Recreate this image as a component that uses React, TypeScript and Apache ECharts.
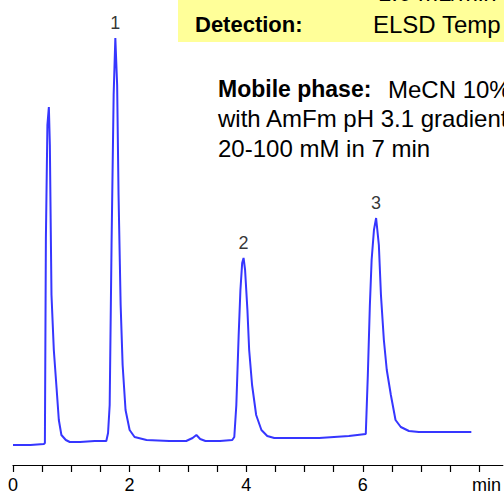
import React, { useEffect, useRef } from "react";
import * as echarts from "echarts";

// Retention time (min) and detector signal (arbitrary units)
const times = [
  0.0, 0.3, 0.53, 0.547, 0.564, 0.59, 0.615, 0.632, 0.66, 0.7, 0.747, 0.786, 0.83, 0.906, 0.974,
  1.15, 1.4, 1.6, 1.63, 1.658, 1.69, 1.726, 1.755, 1.786, 1.81, 1.846, 1.88, 1.93, 2.0, 2.085,
  2.29, 2.68, 2.97, 3.08, 3.145, 3.21, 3.3, 3.55, 3.76, 3.795, 3.83, 3.87, 3.9, 3.93, 3.954,
  3.98, 4.02, 4.05, 4.1, 4.17, 4.26, 4.36, 4.48, 4.9, 5.25, 5.76, 6.05, 6.085, 6.12, 6.15,
  6.19, 6.227, 6.274, 6.31, 6.36, 6.41, 6.48, 6.56, 6.65, 6.79, 6.96, 7.25, 7.86,
];
const signal = [
  0, 0, 1, 2, 207, 320, 338, 300, 150, 95, 57, 25, 10, 5, 3,
  3, 4, 4, 12, 40, 200, 350, 407, 360, 250, 140, 80, 35, 15, 8,
  5, 4, 4, 7, 10, 6, 4, 4, 5, 8, 40, 110, 155, 182, 187,
  175, 135, 95, 60, 30, 15, 9, 7, 7, 7, 9, 11, 70, 140, 185,
  215, 227, 200, 150, 105, 75, 50, 25, 18, 14, 13, 13, 13,
];

// Labelled peaks
const peakNames = ["1", "2", "3"];
const peakTimes = [1.755, 3.954, 6.227];
const peakSignals = [407, 187, 227];

// Axis labels
const majorTicks = [0, 2, 4, 6];
const unitLabel = "min";
const unitTick = 8;

// Annotation texts
const conditionLabels = ["Flow:", "Detection:"];
const conditionValues = ["1.0 mL/min", "ELSD Temp 50°C"];
const mobileTitle = "Mobile phase:";
const mobileLines = ["MeCN 10%", "with AmFm pH 3.1 gradient", "20-100 mM in 7 min"];

const FONT = "'Liberation Sans', Arial, Helvetica, sans-serif";

export default function App() {
  const ref = useRef<HTMLDivElement>(null);

  useEffect(() => {
    if (!ref.current) return;
    const chart = echarts.init(ref.current, undefined, { renderer: "svg" });

    const lineData = times.map((t, i) => [t, signal[i]]);
    const peakData = peakNames.map((n, i) => ({ name: n, value: [peakTimes[i], peakSignals[i]] }));

    const textStyle = (bold: boolean, size: number) => ({
      fill: "#000",
      font: `${bold ? "bold " : ""}${size}px ${FONT}`,
      textVerticalAlign: "middle",
      verticalAlign: "middle",
    });

    chart.setOption({
      animation: false,
      backgroundColor: "#fff",
      grid: { left: 13, right: 0, top: 25, bottom: 30, containLabel: false },
      xAxis: {
        type: "value",
        min: 0,
        max: 8.4,
        interval: 0.5,
        axisLine: { show: true, onZero: false, lineStyle: { color: "#000", width: 1.2 } },
        axisTick: { show: true, length: 7, lineStyle: { color: "#000", width: 1.2 } },
        splitLine: { show: false },
        axisLabel: {
          show: true,
          margin: 11,
          fontSize: 18,
          fontFamily: FONT,
          color: "#000",
          showMaxLabel: false,
          formatter: (v: number) => {
            if (Math.abs(v - unitTick) < 1e-6) return `{u|${unitLabel}}`;
            return majorTicks.some((m) => Math.abs(m - v) < 1e-6) ? String(v) : "";
          },
          rich: { u: { fontSize: 18, fontFamily: FONT, color: "#000", padding: [0, 0, 0, 14] } },
        },
      },
      yAxis: {
        type: "value",
        min: -20,
        max: 420,
        show: false,
      },
      series: [
        {
          type: "line",
          data: lineData,
          showSymbol: false,
          symbol: "none",
          lineStyle: { color: "#3636ff", width: 2 },
          z: 2,
        },
        {
          type: "scatter",
          data: peakData,
          symbolSize: 1,
          itemStyle: { color: "rgba(0,0,0,0)" },
          label: {
            show: true,
            position: "top",
            distance: 6,
            formatter: (p: any) => p.name,
            fontSize: 18,
            fontFamily: FONT,
            color: "#000",
          },
          z: 3,
        },
      ],
      graphic: [
        { type: "rect", shape: { x: 178, y: 0, width: 340, height: 42 }, style: { fill: "#ffff99" }, z: 0 },
        { type: "text", x: 192, y: -8, style: { text: conditionLabels[0], ...textStyle(true, 22) } },
        { type: "text", x: 378, y: -8, style: { text: conditionValues[0], ...textStyle(false, 24) } },
        { type: "text", x: 195, y: 24, style: { text: conditionLabels[1], ...textStyle(true, 22) } },
        { type: "text", x: 373, y: 24, style: { text: conditionValues[1], ...textStyle(false, 24) } },
        { type: "text", x: 218, y: 89, style: { text: mobileTitle, ...textStyle(true, 23) } },
        { type: "text", x: 388, y: 89, style: { text: mobileLines[0], ...textStyle(false, 24) } },
        { type: "text", x: 218, y: 118.5, style: { text: mobileLines[1], ...textStyle(false, 24) } },
        { type: "text", x: 218, y: 148, style: { text: mobileLines[2], ...textStyle(false, 24) } },
      ],
    });

    return () => chart.dispose();
  }, []);

  return (
    <div
      ref={ref}
      style={{ position: "fixed", left: 0, top: 0, width: 504, height: 495, background: "#fff" }}
    />
  );
}
